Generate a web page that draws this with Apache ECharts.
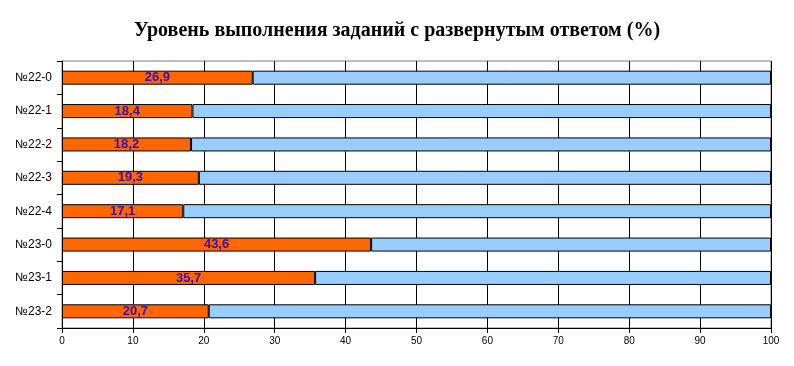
<!DOCTYPE html>
<html><head><meta charset="utf-8">
<script src="https://cdn.jsdelivr.net/npm/echarts@6/dist/echarts.min.js"></script>
<style>html,body{margin:0;padding:0;background:#fff}#c{width:794px;height:366px}</style>
</head><body><div id="c"></div>
<script>
var categories = ['№22-0','№22-1','№22-2','№22-3','№22-4','№23-0','№23-1','№23-2'];
var doneValues = [26.9, 18.4, 18.2, 19.3, 17.1, 43.6, 35.7, 20.7];
var restValues = [73.1, 81.6, 81.8, 80.7, 82.9, 56.4, 64.3, 79.3];
var xTicks = [0,10,20,30,40,50,60,70,80,90,100];

var chart = echarts.init(document.getElementById('c'), null, {renderer:'canvas'});
chart.setOption({
  animation:false,
  backgroundColor:'#fff',
  title:{text:'Уровень выполнения заданий с развернутым ответом (%)', left:'center', top:16,
    textStyle:{fontFamily:'Liberation Serif', fontWeight:'bold', fontSize:20, color:'#000'}},
  grid:{left:62, right:23, top:61, bottom:38, show:true, borderColor:'#808080', borderWidth:1},
  xAxis:{type:'value', min:xTicks[0], max:xTicks[xTicks.length-1], interval:xTicks[1]-xTicks[0],
    axisLine:{show:true, lineStyle:{color:'#000'}},
    axisTick:{show:true, length:5, lineStyle:{color:'#000'}},
    axisLabel:{fontFamily:'Liberation Sans', fontSize:10, color:'#000', margin:8},
    splitLine:{show:true, lineStyle:{color:'#000', width:1}}},
  yAxis:{type:'category', data:categories, inverse:true,
    axisLine:{show:true, lineStyle:{color:'#000'}},
    axisTick:{show:true, length:5, lineStyle:{color:'#000'}},
    axisLabel:{fontFamily:'Liberation Sans', fontSize:12, color:'#000', margin:10},
    splitLine:{show:false}},
  series:[
    {type:'bar', stack:'s', data:doneValues, barWidth:'42%',
     itemStyle:{color:'#FF6600', borderColor:'#000', borderWidth:1},
     label:{show:true, position:'inside', fontFamily:'Liberation Sans', fontWeight:'bold', fontSize:13, color:'#3311BB',
       formatter:function(p){return String(p.value).replace('.',',');}}},
    {type:'bar', stack:'s', data:restValues, barWidth:'42%',
     itemStyle:{color:'#99CCFF', borderColor:'#000', borderWidth:1}}
  ]
});
</script></body></html>
